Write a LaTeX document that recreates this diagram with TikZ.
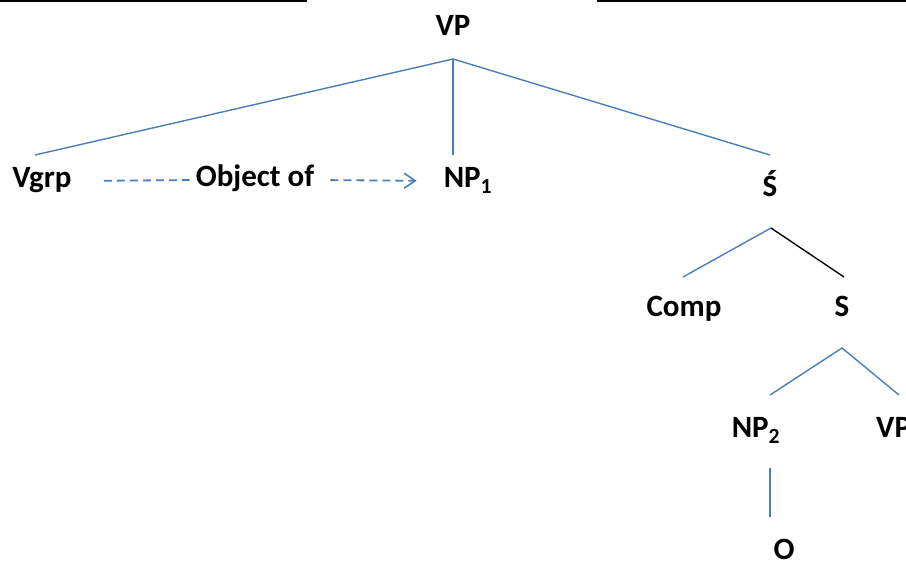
\documentclass[tikz,border=0pt]{standalone}
\usepackage{fontspec}
\setmainfont{Carlito}
\usetikzlibrary{arrows.meta}

\definecolor{treeblue}{RGB}{74,126,187}

\tikzset{
  lbl/.style={anchor=base, font=\fontsize{31}{36}\selectfont\bfseries,
    inner sep=0pt, text height=20pt, text depth=6pt},
  branch/.style={draw=treeblue, line width=1.4pt},
  branchdark/.style={draw=black, line width=1.4pt},
  linkdash/.style={draw=treeblue, line width=1.8pt, dash pattern=on 8pt off 5pt},
}

\begin{document}
\begin{tikzpicture}[x=1pt, y=-1pt]
\useasboundingbox (0,0) rectangle (906,561);

% Rules along the top edge
\draw[line width=2pt] (0,1) -- (307,1);
\draw[line width=2pt] (597,1) -- (906,1);

% Labels of the tree
\node[lbl] (vp) at (453,36) {VP};
\node[lbl] (vgrp) at (42,188) {Vgrp};
\node[lbl] (obj) at (255,187) {Object of};
\node[lbl] (npone) at (468,188) {NP\textsubscript{1}};
\node[lbl] (sbar) at (770,197) {Ś};
\node[lbl] (comp) at (684,317) {Comp};
\node[lbl] (s) at (842,317) {S};
\node[lbl] (nptwo) at (756,438) {NP\textsubscript{2}};
\node[lbl, anchor=base west] (vpr) at (876,438) {VP};
\node[lbl] (o) at (784,559) {O};

% Where the branches start and end
\coordinate (vptop) at (453,59);
\coordinate (vgrpfoot) at (35,155);
\coordinate (nponefoot) at (453,155);
\coordinate (sbarfoot) at (770,155);
\coordinate (sbartop) at (771,228);
\coordinate (compfoot) at (683,277);
\coordinate (sfoot) at (844,277);
\coordinate (stop) at (842,348);
\coordinate (nptwofoot) at (770,395);
\coordinate (vprfoot) at (899,395);
\coordinate (nptwobot) at (770,468);
\coordinate (otop) at (770,517);

% Branches
\draw[branch] (vgrpfoot) -- (vptop) -- (sbarfoot);
\draw[branch] (vptop) -- (nponefoot);
\draw[branch] (sbartop) -- (compfoot);
\draw[branchdark] (sbartop) -- (sfoot);
\draw[branch] (nptwofoot) -- (stop) -- (vprfoot);
\draw[branch] (nptwobot) -- (otop);

% Dashed relation
\draw[linkdash, shorten <=32pt, shorten >=6pt] (vgrp.east) -- (obj.west);
\draw[linkdash, shorten <=16pt, shorten >=27pt,
  -{Straight Barb[length=11pt, width=15pt, line width=1.6pt]}] (obj.east) -- (npone.west);
\end{tikzpicture}
\end{document}
